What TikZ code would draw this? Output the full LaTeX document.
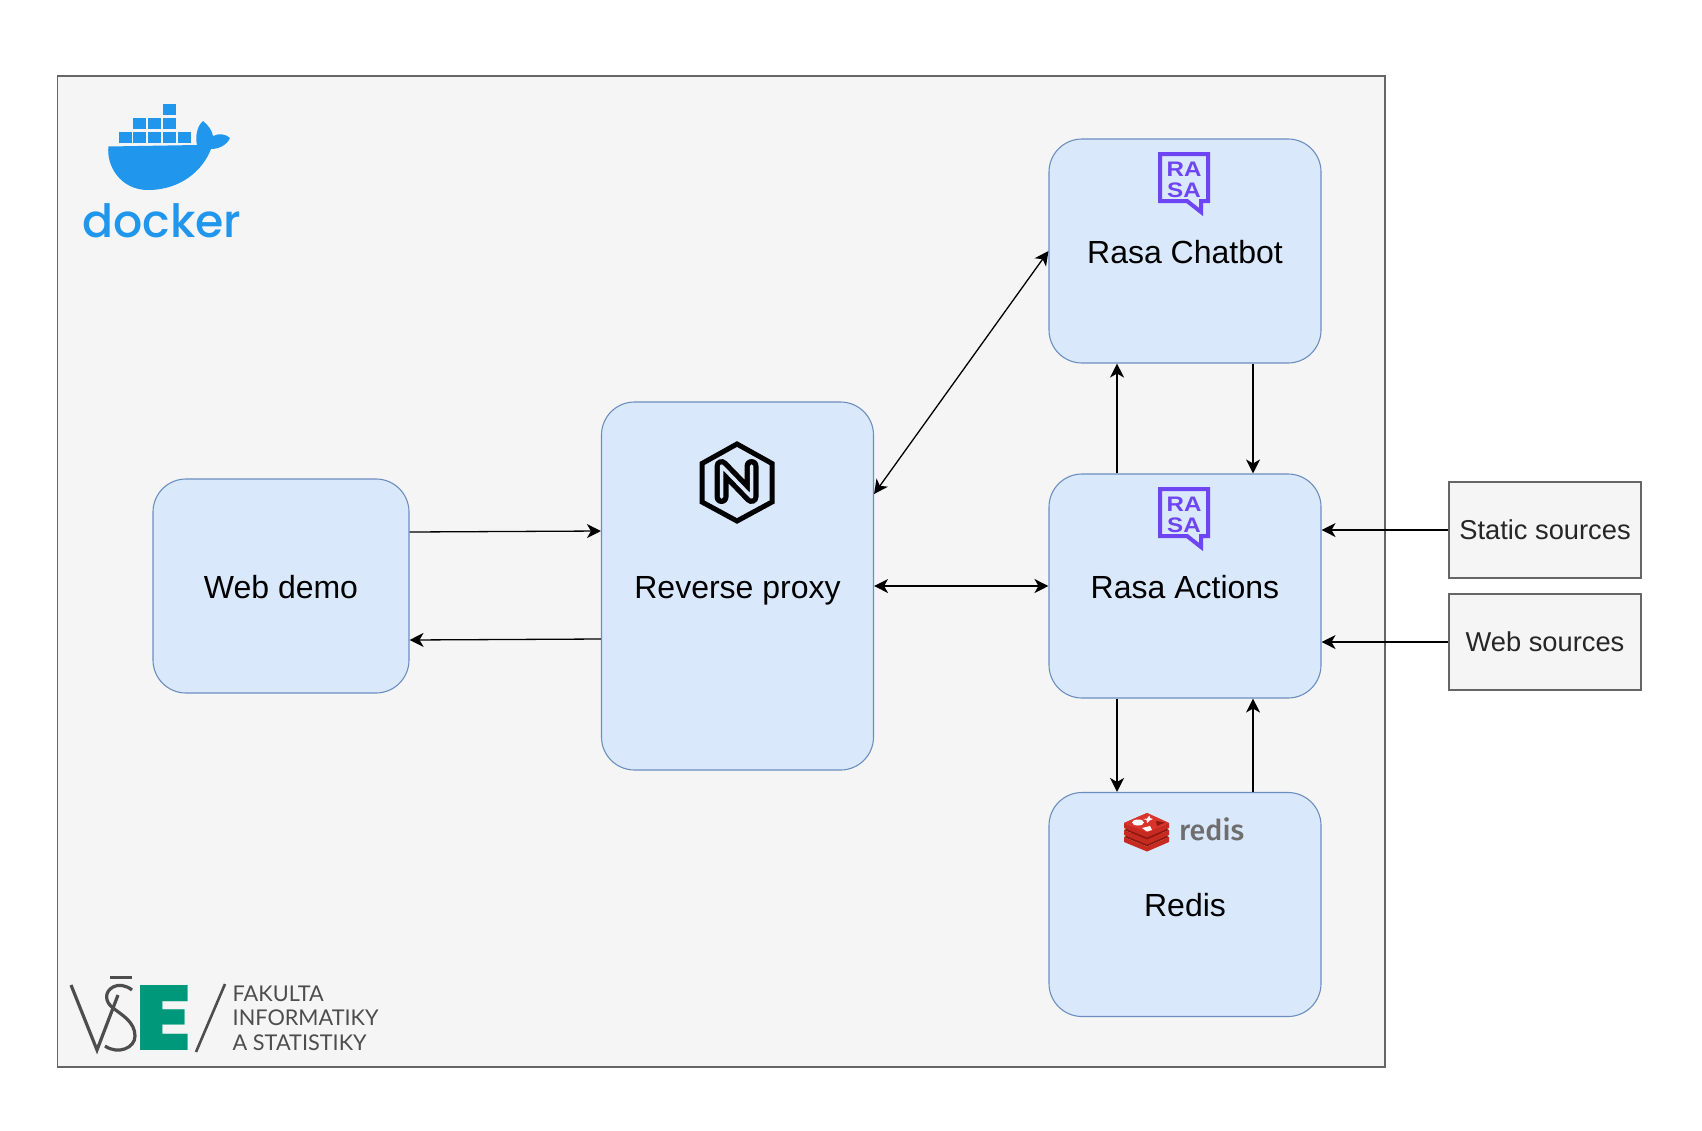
\documentclass[tikz,border=0pt]{standalone}
\usepackage{fontspec}
\setmainfont{Liberation Sans}
\newfontfamily\dockerfont{Poppins Medium}
\newfontfamily\vsefont{Lato}
\newfontfamily\vseheavy{Poppins Black}
\newfontfamily\redisfont{Fira Sans}
\newfontfamily\rasafont[FakeStretch=1.15]{Liberation Sans}
\usetikzlibrary{arrows.meta}
\definecolor{boxfill}{HTML}{DAE8FC}
\definecolor{boxline}{HTML}{6C8EBF}
\definecolor{greyfill}{HTML}{F5F5F5}
\definecolor{greyline}{HTML}{666666}
\definecolor{dockerblue}{HTML}{2196ED}
\definecolor{rasapurple}{HTML}{6D45F2}
\definecolor{vsegreen}{HTML}{00987B}
\definecolor{vsegrey}{HTML}{4D4D4D}
\definecolor{redisred}{HTML}{D9342B}
\definecolor{redisband}{HTML}{C62A20}
\definecolor{redisdark}{HTML}{8C1810}
\definecolor{redisgrey}{HTML}{6E6E6E}
\tikzset{
  service/.style={draw=boxline,fill=boxfill,line width=1.1pt,rounded corners=33pt,inner sep=0pt,
    font=\fontsize{32}{36}\selectfont,text height=24pt,text depth=0pt},
  source/.style={draw=greyline,fill=greyfill,line width=1.1pt,inner sep=0pt,minimum width=192pt,minimum height=96pt,
    font=\fontsize{27.3}{32}\selectfont,text=black!85,text height=18pt,text depth=0pt},
  tip/.style={},
  link/.style={line width=1.3pt,-{Stealth[length=14pt,width=14pt,inset=4pt]}},
  biglink/.style={line width=1.3pt,{Stealth[length=14pt,width=14pt,inset=4pt]}-{Stealth[length=14pt,width=14pt,inset=4pt]}},
  dockblock/.style={fill=dockerblue},
  logotext/.style={inner sep=0pt},
}
\newcommand\rasalogo[2]{%
  \begin{scope}[yshift=#2]
    \draw[rasapurple,line width=4pt,miter limit=10]
      (1160,154) -- (1208,154) -- (1208,201) -- (1201,201) -- (1201,212) -- (1187,201) -- (1160,201) -- cycle;
    \node[logotext,text=rasapurple,align=center,font=\rasafont\bfseries\fontsize{21}{21}\selectfont] (#1) at (1184,180) {RA\\SA};
  \end{scope}}
\begin{document}
\begin{tikzpicture}[x=1pt,y=-1pt]
\useasboundingbox (0,0) rectangle (1702,1130);
\fill[white] (0,0) rectangle (1702,1130);
\node[draw=greyline,fill=greyfill,line width=1.2pt,minimum width=1327.5pt,minimum height=991pt,inner sep=0pt] (frame) at (721.25,571.5) {};

% docker logo
\foreach \x/\y in {163/104,133/118,148/118,163/118,119/132,133/132,148/132,163/132,178/132}
  \fill[dockblock] (\x,\y) rectangle ++(13,11);
\fill[dockerblue] (108.5,146.5) -- (197,145) .. controls (195,137) and (197,126) .. (203,121)
  .. controls (208,125) and (212,130) .. (213,136) .. controls (219,133) and (226,134) .. (230,138)
  .. controls (227,145) and (219,149) .. (211,149) .. controls (203,170) and (181,190) .. (148,190)
  .. controls (120,190) and (106,165) .. (108.5,146.5) -- cycle;
\node[logotext,text=dockerblue] (dockerword) at (162,221) {\resizebox{159pt}{!}{\dockerfont docker}};

% services
\node[service,minimum width=256pt,minimum height=214pt] (web) at (281,586) {Web demo};
\node[service,minimum width=272pt,minimum height=368pt] (proxy) at (737.5,586) {Reverse proxy};
\node[service,minimum width=272pt,minimum height=224pt] (chatbot) at (1185,251) {Rasa Chatbot};
\node[service,minimum width=272pt,minimum height=224pt] (actions) at (1185,586) {Rasa Actions};
\node[service,minimum width=272pt,minimum height=224pt] (redis) at (1185,904.5) {Redis};
\node[source] (static) at (1545,530) {Static sources};
\node[source] (websrc) at (1545,642) {Web sources};

% logos
\rasalogo{chatlogo}{0pt}
\rasalogo{actlogo}{-335pt}

\draw[black,line width=5pt,line join=miter] (737,444) -- (772,463.5) -- (772,502) -- (737,521) -- (702,502) -- (702,463.5) -- cycle;
\draw[black,line width=14pt,line join=round,line cap=round] (721.5,497) -- (721.5,466) -- (751.5,497) -- (751.5,466);
\draw[boxfill,line width=3.5pt,line join=round,line cap=round] (721.5,497) -- (721.5,466) -- (751.5,497) -- (751.5,466);

% redis logo
\foreach \dy/\top in {14/redisdark,7/redisdark,0/redisred}{
  \fill[\top] (1124,823+\dy) -- (1147,813+\dy) -- (1169,823+\dy) -- (1147,832.5+\dy) -- cycle;
  \fill[redisband] (1124,823+\dy) -- (1147,832.5+\dy) -- (1169,823+\dy) -- (1169,828+\dy) -- (1147,837.5+\dy) -- (1124,828+\dy) -- cycle;
}
\fill[redisred] (1124,823) -- (1147,813) -- (1169,823) -- (1147,832.5) -- cycle;
\fill[white] (1138,822.5) ellipse (6pt and 3pt);
\fill[white] (1147,818.5) -- (1149.5,815.5) -- (1150,818) -- (1153,819) -- (1149.5,820.5) -- (1147,823) -- (1146.5,820) -- (1143,819) -- cycle;
\fill[white] (1142,828) -- (1150,826) -- (1152,830) -- (1147,831.5) -- cycle;
\fill[redisdark] (1156,821) -- (1165,822.5) -- (1157,826) -- cycle;
\node[logotext,text=redisgrey,anchor=base west] (redisword) at (1179,840) {\resizebox{65pt}{!}{\redisfont\fontspec{Fira Sans Medium}redis}};

% VSE logo
\draw[vsegrey,line width=3.2pt,line cap=butt,line join=miter] (71,985) -- (97,1050) -- (118,995);
\draw[vsegrey,line width=3pt] (110,977) -- (132,977);
\draw[vsegrey,line width=3.2pt] (132,990) .. controls (126,985) and (118,984) .. (113,987)
  .. controls (104,992) and (105,1002) .. (113,1008) .. controls (122,1015) and (135,1022) .. (135,1036)
  .. controls (135,1048) and (118,1055) .. (105,1046);
\node[logotext,text=vsegreen] (vse) at (164,1017.5) {\resizebox{56pt}{65pt}{\vseheavy E}};
\draw[vsegrey,line width=2.6pt] (225,984) -- (196,1052);
\node[logotext,text=vsegrey,anchor=base west,font=\vsefont\fontsize{21.7}{24}\selectfont] (fak1) at (232.5,1001) {FAKULTA};
\node[logotext,text=vsegrey,anchor=base west,font=\vsefont\fontsize{21.7}{24}\selectfont] (fak2) at (232.5,1025) {INFORMATIKY};
\node[logotext,text=vsegrey,anchor=base west,font=\vsefont\fontsize{21.7}{24}\selectfont] (fak3) at (232.5,1050) {A STATISTIKY};

% connectors
\draw[link] ([yshift=54pt]web.east) -- ([yshift=55pt]proxy.west);
\draw[link] ([yshift=-53pt]proxy.west) -- ([yshift=-54pt]web.east);
\draw[biglink] ([yshift=92pt]proxy.east) -- (chatbot.west);
\draw[biglink] (proxy.east) -- (actions.west);
\draw[link] ([xshift=-68pt]actions.north) -- ([xshift=-68pt]chatbot.south);
\draw[link] ([xshift=68pt]chatbot.south) -- ([xshift=68pt]actions.north);
\draw[link] ([xshift=-68pt]actions.south) -- ([xshift=-68pt]redis.north);
\draw[link] ([xshift=68pt]redis.north) -- ([xshift=68pt]actions.south);
\draw[link] (static.west) -- ([yshift=56pt]actions.east);
\draw[link] (websrc.west) -- ([yshift=-56pt]actions.east);
\end{tikzpicture}
\end{document}
